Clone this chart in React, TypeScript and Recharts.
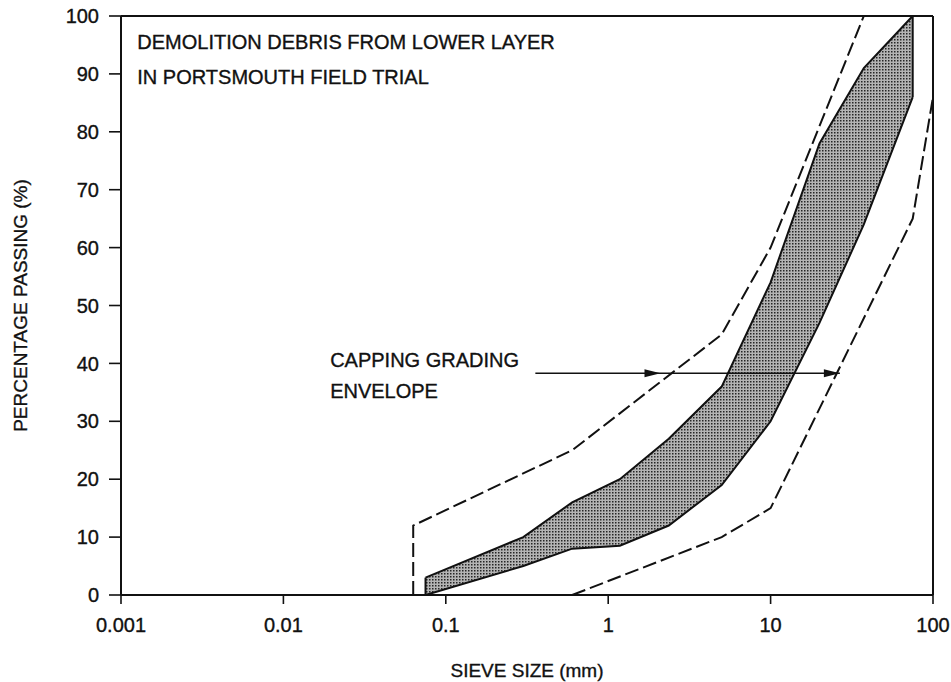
import React from "react";
import {
  Area,
  ComposedChart,
  Line,
  ReferenceDot,
  ReferenceLine,
  Scatter,
  XAxis,
  YAxis,
} from "recharts";

// capping grading envelope (dashed limits)
const fineLimitSize = [0.063, 0.063, 0.6, 5, 10, 37.5];
const fineLimitPassing = [0, 12, 25, 45, 60, 100];
const coarseLimitSize = [0.6, 5, 10, 75, 100];
const coarseLimitPassing = [0, 10, 15, 65, 86];

// demolition debris band (shaded)
const bandSize = [0.075, 0.3, 0.6, 1.18, 2.36, 5, 10, 20, 37.5, 75];
const bandLow = [0, 5, 8, 8.5, 12, 19, 30, 47, 64, 86];
const bandHigh = [3, 10, 16, 20, 27, 36, 54, 78, 91, 100];

const xTicks = [0.001, 0.01, 0.1, 1, 10, 100];
const yTicks = [0, 10, 20, 30, 40, 50, 60, 70, 80, 90, 100];

const titleLines = ["DEMOLITION DEBRIS FROM LOWER LAYER", "IN PORTSMOUTH FIELD TRIAL"];
const titleAt = { x: 0.00126, y: [95.5, 89.4] };
const envelopeLines = ["CAPPING GRADING", "ENVELOPE"];
const envelopeAt = { x: 0.0194, y: [40.6, 35.3] };
const arrowStart = 0.356;
const arrowTips = [2.1, 26.7];
const arrowLevel = 38.3;

const font = "'Liberation Sans', Arial, Helvetica, sans-serif";
const ink = "#111";

const bandData = bandSize.map((x, i) => ({ x, range: [bandLow[i], bandHigh[i]] }));
const fineLimit = fineLimitSize.map((x, i) => ({ x, y: fineLimitPassing[i] }));
const coarseLimit = coarseLimitSize.map((x, i) => ({ x, y: coarseLimitPassing[i] }));
const bandLeftEdge = [
  { x: bandSize[0], y: bandLow[0] },
  { x: bandSize[0], y: bandHigh[0] },
];
const last = bandSize.length - 1;
const bandRightEdge = [
  { x: bandSize[last], y: bandLow[last] },
  { x: bandSize[last], y: bandHigh[last] },
];
const arrowShaft = [
  { x: arrowStart, y: arrowLevel },
  { x: arrowTips[1], y: arrowLevel },
];
const arrowHeads = arrowTips.map((x) => ({ x, y: arrowLevel }));

const ArrowHead = (props: any) => {
  const { cx, cy } = props;
  return (
    <path
      d={`M${cx},${cy} L${cx - 16},${cy - 4} L${cx - 16},${cy + 4} Z`}
      fill={ink}
    />
  );
};

const textStyle = { fill: ink, fontSize: 20, fontFamily: font, stroke: ink, strokeWidth: 0.35 };
const tickStyle = { fill: ink, fontSize: 20, fontFamily: font, stroke: ink, strokeWidth: 0.35 };

export default function App() {
  return (
    <div style={{ position: "absolute", left: 0, top: 0, background: "#fff" }}>
      <ComposedChart
        width={951}
        height={682}
        data={bandData}
        margin={{ top: 16, right: 18, left: 0, bottom: 0 }}
      >
        <defs>
          <pattern id="stipple" width="3" height="3" patternUnits="userSpaceOnUse">
            <rect width="3" height="3" fill="#b4b4b4" />
            <rect width="1.5" height="1.5" fill="#262626" />
          </pattern>
        </defs>
        <XAxis
          dataKey="x"
          type="number"
          scale="log"
          domain={[0.001, 100]}
          ticks={xTicks}
          allowDataOverflow
          height={87}
          tickSize={9}
          tickMargin={14}
          tick={tickStyle}
          axisLine={{ stroke: ink, strokeWidth: 2 }}
          tickLine={{ stroke: ink, strokeWidth: 1.6 }}
          label={{
            value: "SIEVE SIZE (mm)",
            position: "insideBottom",
            offset: 5,
            style: { ...textStyle, fontSize: 19 },
          }}
        />
        <YAxis
          type="number"
          domain={[0, 100]}
          ticks={yTicks}
          width={121}
          tickSize={12}
          tickMargin={10}
          tick={tickStyle}
          axisLine={{ stroke: ink, strokeWidth: 2 }}
          tickLine={{ stroke: ink, strokeWidth: 1.6 }}
          label={{
            value: "PERCENTAGE PASSING (%)",
            angle: -90,
            position: "insideLeft",
            offset: 20,
            style: { ...textStyle, fontSize: 19, textAnchor: "middle" },
          }}
        />
        <ReferenceLine y={100} stroke={ink} strokeWidth={2} />
        <ReferenceLine x={100} stroke={ink} strokeWidth={2} />

        <Area
          dataKey="range"
          type="linear"
          fill="url(#stipple)"
          fillOpacity={1}
          stroke={ink}
          strokeWidth={2}
          dot={false}
          activeDot={false}
          isAnimationActive={false}
        />
        <Line data={bandLeftEdge} dataKey="y" type="linear" stroke={ink} strokeWidth={2} dot={false} activeDot={false} isAnimationActive={false} />
        <Line data={bandRightEdge} dataKey="y" type="linear" stroke={ink} strokeWidth={2} dot={false} activeDot={false} isAnimationActive={false} />

        <Line data={fineLimit} dataKey="y" type="linear" stroke={ink} strokeWidth={2} strokeDasharray="14 5" dot={false} activeDot={false} isAnimationActive={false} />
        <Line data={coarseLimit} dataKey="y" type="linear" stroke={ink} strokeWidth={2} strokeDasharray="14 5" dot={false} activeDot={false} isAnimationActive={false} />

        <Line data={arrowShaft} dataKey="y" type="linear" stroke={ink} strokeWidth={1.6} dot={false} activeDot={false} isAnimationActive={false} />
        <Scatter data={arrowHeads} dataKey="y" shape={ArrowHead} isAnimationActive={false} />

        {titleLines.map((t, i) => (
          <ReferenceDot
            key={t}
            x={titleAt.x}
            y={titleAt.y[i]}
            r={0}
            stroke="none"
            fill="none"
            label={{ value: t, position: "right", offset: 0, style: textStyle }}
          />
        ))}
        {envelopeLines.map((t, i) => (
          <ReferenceDot
            key={t}
            x={envelopeAt.x}
            y={envelopeAt.y[i]}
            r={0}
            stroke="none"
            fill="none"
            label={{ value: t, position: "right", offset: 0, style: textStyle }}
          />
        ))}
      </ComposedChart>
    </div>
  );
}
